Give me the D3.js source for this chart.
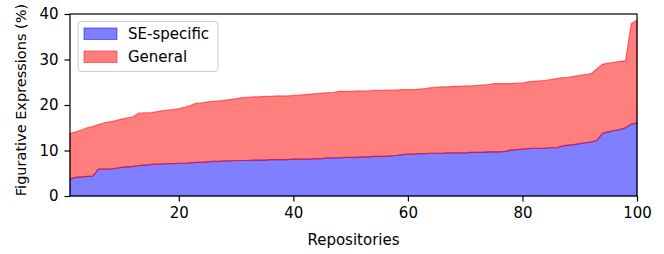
<!DOCTYPE html>
<html><head><meta charset="utf-8">
<script src="https://cdn.jsdelivr.net/npm/d3@7"></script>
<style>body{margin:0;background:#fff}svg{display:block}text{font-family:"DejaVu Sans",sans-serif}</style>
</head><body><svg id="c" width="664" height="254"></svg>
<script>
const repositories = d3.range(1, 101);
const seSpecific = [3.7,4.1,4.2,4.3,4.4,5.9,5.9,5.9,6.1,6.3,6.4,6.5,6.7,6.8,6.9,7.0,7.0,7.1,7.1,7.2,
7.2,7.3,7.4,7.4,7.5,7.6,7.6,7.7,7.7,7.8,7.8,7.8,7.9,7.9,7.9,8.0,8.0,8.0,8.0,8.1,
8.1,8.1,8.1,8.2,8.2,8.4,8.4,8.4,8.5,8.5,8.5,8.6,8.6,8.7,8.7,8.7,8.8,8.9,9.1,9.2,
9.2,9.3,9.3,9.4,9.4,9.4,9.5,9.5,9.5,9.5,9.6,9.6,9.6,9.7,9.7,9.7,9.8,10.1,10.2,10.3,
10.4,10.5,10.5,10.5,10.6,10.6,11.0,11.2,11.3,11.5,11.7,11.9,12.2,13.8,14.1,14.4,14.6,15.0,15.8,16.1];
const general = [10.1,10.0,10.3,10.7,10.9,9.8,10.2,10.4,10.5,10.6,10.8,10.9,11.5,11.5,11.4,11.5,11.7,11.8,11.9,12.0,
12.3,12.6,13.0,13.1,13.2,13.2,13.3,13.4,13.5,13.6,13.8,13.9,13.9,13.9,14.0,13.9,14.0,14.0,14.0,14.0,
14.1,14.2,14.3,14.3,14.4,14.3,14.4,14.6,14.5,14.5,14.6,14.5,14.5,14.5,14.5,14.6,14.5,14.4,14.3,14.2,
14.2,14.2,14.3,14.4,14.5,14.6,14.5,14.6,14.6,14.7,14.6,14.7,14.8,14.8,15.0,15.0,14.9,14.6,14.6,14.5,
14.7,14.7,14.8,14.9,15.0,15.2,15.0,14.9,15.0,15.0,15.0,15.0,15.8,15.2,15.1,15.0,15.0,14.7,22.1,22.5];
const seriesNames = ["SE-specific", "General"];
const seriesColors = ["#0000ff", "#ff0000"];
const xTicks = [20, 40, 60, 80, 100];
const yTicks = [0, 10, 20, 30, 40];

const svg = d3.select("#c");
const L = 70, R = 637, T = 14, B = 196;
const FS = "15px";
const x = d3.scaleLinear().domain([1, 100]).range([L, R]);
const y = d3.scaleLinear().domain([0, 40]).range([B, T]);

const rows = repositories.map((r, i) => ({r, se: seSpecific[i], gen: general[i]}));
const stack = d3.stack().keys(["se", "gen"])(rows);

const area = d3.area().x(d => x(d.data.r)).y0(d => y(d[0])).y1(d => y(d[1]));
svg.append("g").selectAll("path").data(stack).join("path")
  .attr("d", area)
  .attr("fill", (d, i) => seriesColors[i]).attr("fill-opacity", 0.5)
  .attr("stroke", (d, i) => seriesColors[i]).attr("stroke-opacity", 0.5)
  .attr("stroke-width", 1.2);

// frame
svg.append("rect").attr("x", L).attr("y", T).attr("width", R - L).attr("height", B - T)
  .attr("fill", "none").attr("stroke", "#000").attr("stroke-width", 1.2);

const xa = svg.append("g").attr("transform", `translate(0,${B})`)
  .call(d3.axisBottom(x).tickValues(xTicks).tickSize(5.5).tickPadding(6).tickFormat(d3.format("d")));
const ya = svg.append("g").attr("transform", `translate(${L},0)`)
  .call(d3.axisLeft(y).tickValues(yTicks).tickSize(5.5).tickPadding(6).tickFormat(d3.format("d")));
[xa, ya].forEach(a => {
  a.select(".domain").remove();
  a.selectAll("line").attr("stroke", "#000").attr("stroke-width", 1.2);
  a.selectAll("text").attr("font-size", FS).attr("fill", "#000").attr("font-family", "DejaVu Sans");
});

svg.append("text").attr("x", (L + R) / 2).attr("y", 245).attr("text-anchor", "middle")
  .attr("font-size", FS).text("Repositories");
svg.append("text").attr("transform", `translate(25.5,100) rotate(-90)`).attr("text-anchor", "middle")
  .attr("font-size", "14.5px").text("Figurative Expressions (%)");

// legend
const lg = svg.append("g");
lg.append("rect").attr("x", 78).attr("y", 21.5).attr("width", 140).attr("height", 50).attr("rx", 3)
  .attr("fill", "#fff").attr("fill-opacity", 0.8).attr("stroke", "#cccccc").attr("stroke-width", 1);
seriesNames.forEach((n, i) => {
  const yy = 28 + i * 23;
  lg.append("rect").attr("x", 84).attr("y", yy).attr("width", 33).attr("height", 11.5)
    .attr("fill", seriesColors[i]).attr("fill-opacity", 0.5)
    .attr("stroke", seriesColors[i]).attr("stroke-opacity", 0.5);
  lg.append("text").attr("x", 128).attr("y", yy + 11).attr("font-size", FS).text(n);
});
</script></body></html>
